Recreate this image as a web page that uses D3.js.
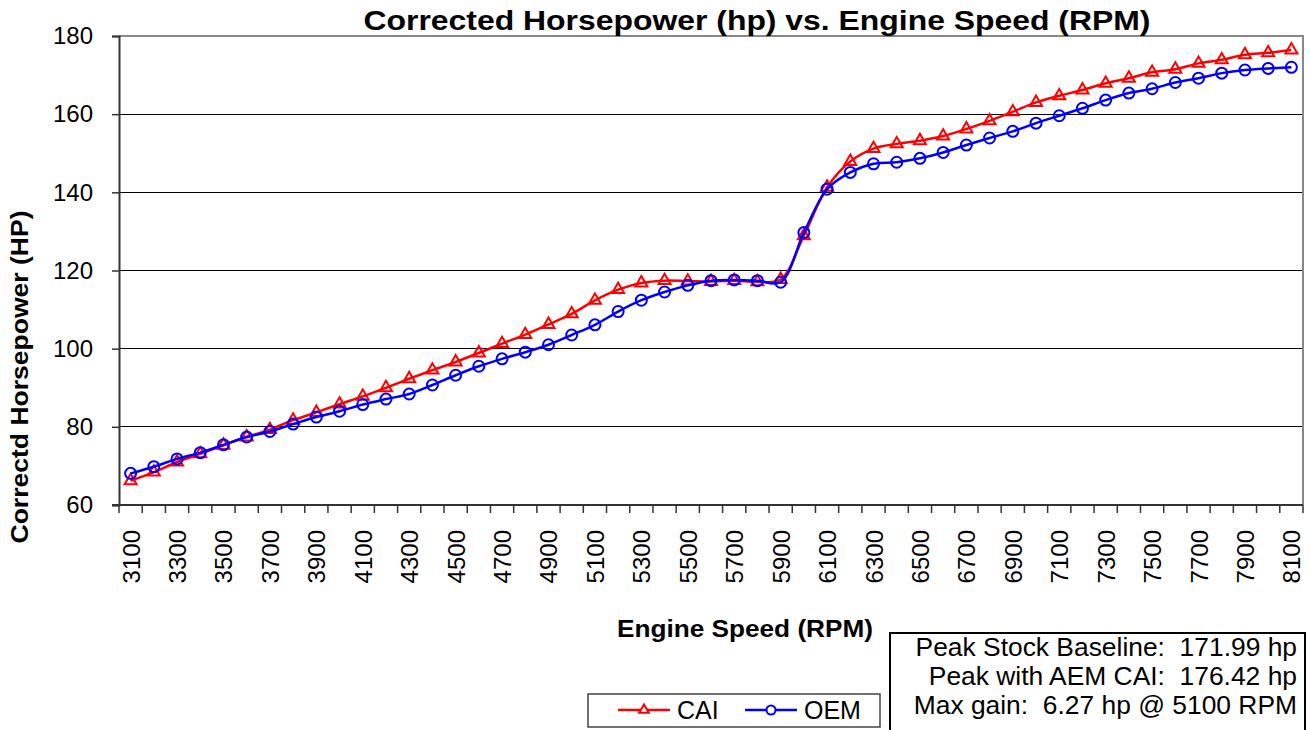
<!DOCTYPE html>
<html>
<head>
<meta charset="utf-8">
<script src="https://cdn.jsdelivr.net/npm/d3@7"></script>
<style>
  body { margin: 0; background: #fff; }
  svg { display: block; font-family: "Liberation Sans", Arial, sans-serif; }
</style>
</head>
<body>
<div id="chart"></div>
<script>
// engine speed categories (RPM)
const rpm = [3100, 3200, 3300, 3400, 3500, 3600, 3700, 3800, 3900, 4000,
  4100, 4200, 4300, 4400, 4500, 4600, 4700, 4800, 4900, 5000,
  5100, 5200, 5300, 5400, 5500, 5600, 5700, 5800, 5900, 6000,
  6100, 6200, 6300, 6400, 6500, 6600, 6700, 6800, 6900, 7000,
  7100, 7200, 7300, 7400, 7500, 7600, 7700, 7800, 7900, 8000, 8100]

// corrected horsepower, AEM cold air intake
const cai = [66.2, 68.4, 71.0, 73.1, 75.3, 77.4, 79.3, 81.7, 83.7, 85.8,
  87.8, 90.0, 92.3, 94.5, 96.6, 98.9, 101.3, 103.6, 106.2, 108.9,
  112.37, 115.1, 116.8, 117.4, 117.3, 117.2, 117.4, 117.1, 117.7, 128.9,
  141.3, 147.9, 151.2, 152.4, 153.2, 154.4, 156.2, 158.3, 160.6, 163.0,
  164.7, 166.2, 167.9, 169.2, 170.7, 171.5, 173.0, 173.9, 175.2, 175.7, 176.42]

// corrected horsepower, stock intake
const oem = [68.1, 69.8, 71.8, 73.4, 75.4, 77.4, 78.8, 80.7, 82.5, 84.0,
  85.7, 87.1, 88.4, 90.7, 93.2, 95.5, 97.4, 99.1, 101.0, 103.5,
  106.1, 109.5, 112.4, 114.5, 116.2, 117.4, 117.6, 117.4, 117.0, 129.7,
  140.8, 145.1, 147.3, 147.7, 148.7, 150.2, 152.1, 153.9, 155.6, 157.7,
  159.6, 161.5, 163.6, 165.4, 166.5, 168.1, 169.2, 170.5, 171.3, 171.7, 171.99]

const yTicks = [60, 80, 100, 120, 140, 160, 180]
const xLabels = rpm.filter((d, i) => i % 2 == 0)

const infoLines = ["Peak Stock Baseline:  171.99 hp",
  "Peak with AEM CAI:  176.42 hp",
  "Max gain:  6.27 hp @ 5100 RPM"]

// dimensions
const W = 1310, H = 730
const margin = { top: 36, right: 7, bottom: 225, left: 119 }
const width = W - margin.left - margin.right
const height = H - margin.top - margin.bottom

const svg = d3.select("#chart").append("svg")
    .attr("width", W)
    .attr("height", H)

const g = svg.append("g")
    .attr("transform", `translate(${margin.left},${margin.top})`)

// scales
const x = d3.scaleBand().domain(rpm).range([0, width])
const y = d3.scaleLinear().domain([60, 180]).range([height, 0])
const cx = d => x(d) + x.bandwidth() / 2

// gridlines
g.append("g")
  .selectAll("line")
  .data(yTicks.slice(1, -1))
  .join("line")
    .attr("x1", 0).attr("x2", width)
    .attr("y1", d => y(d)).attr("y2", d => y(d))
    .attr("stroke", "#000")
    .attr("stroke-width", 1)
    .attr("shape-rendering", "crispEdges")

// plot frame (top and right in gray)
g.append("path")
    .attr("d", `M0,0H${width}V${height}`)
    .attr("fill", "none")
    .attr("stroke", "#888")
    .attr("stroke-width", 2)

// y axis
const yAxis = g.append("g")
    .call(d3.axisLeft(y).tickValues(yTicks).tickSize(7).tickPadding(19))
yAxis.select(".domain").attr("stroke", "#333").attr("stroke-width", 2)
yAxis.selectAll(".tick line").attr("stroke", "#333").attr("stroke-width", 1.5)
yAxis.selectAll("text")
    .attr("font-size", 24)
    .attr("font-family", "Liberation Sans, Arial, sans-serif")
    .attr("fill", "#000")

// x axis: ticks on band edges, labels every other category
const xAxis = g.append("g")
    .attr("transform", `translate(0,${height})`)
xAxis.append("line")
    .attr("x1", -7).attr("x2", width)
    .attr("stroke", "#333").attr("stroke-width", 2)
xAxis.selectAll(".edge")
  .data(rpm.concat(["end"]))
  .join("line")
    .attr("class", "edge")
    .attr("x1", (d, i) => i < rpm.length ? x(d) : width)
    .attr("x2", (d, i) => i < rpm.length ? x(d) : width)
    .attr("y1", 0).attr("y2", 8)
    .attr("stroke", "#333").attr("stroke-width", 1.5)
xAxis.selectAll(".lbl")
  .data(xLabels)
  .join("text")
    .attr("class", "lbl")
    .attr("transform", d => `translate(${cx(d) + 9},${25}) rotate(-90)`)
    .attr("text-anchor", "end")
    .attr("font-size", 24)
    .text(d => d)

// series
const line = d3.line()
    .curve(d3.curveCatmullRom)
    .x(d => cx(d.rpm))
    .y(d => y(d.hp))

const caiData = rpm.map((r, i) => ({ rpm: r, hp: cai[i] }))
const oemData = rpm.map((r, i) => ({ rpm: r, hp: oem[i] }))

const tri = d3.symbol(d3.symbolTriangle, 62)

g.append("path")
    .datum(caiData)
    .attr("fill", "none")
    .attr("stroke", "#ff0000")
    .attr("stroke-width", 2.5)
    .attr("d", line)
g.append("g").selectAll("path")
  .data(caiData)
  .join("path")
    .attr("transform", d => `translate(${cx(d.rpm)},${y(d.hp)})`)
    .attr("d", tri)
    .attr("fill", "none")
    .attr("stroke", "#ff0000")
    .attr("stroke-width", 2)

g.append("path")
    .datum(oemData)
    .attr("fill", "none")
    .attr("stroke", "#0000ff")
    .attr("stroke-width", 2.5)
    .attr("d", line)
g.append("g").selectAll("circle")
  .data(oemData)
  .join("circle")
    .attr("cx", d => cx(d.rpm))
    .attr("cy", d => y(d.hp))
    .attr("r", 5.5)
    .attr("fill", "none")
    .attr("stroke", "#0000ff")
    .attr("stroke-width", 2)

// titles
svg.append("text")
    .attr("x", 757).attr("y", 30)
    .attr("text-anchor", "middle")
    .attr("font-size", 28)
    .attr("font-weight", "bold")
    .attr("textLength", 787)
    .attr("lengthAdjust", "spacingAndGlyphs")
    .text("Corrected Horsepower (hp) vs. Engine Speed (RPM)")

svg.append("text")
    .attr("x", 745).attr("y", 637)
    .attr("text-anchor", "middle")
    .attr("font-size", 24)
    .attr("font-weight", "bold")
    .attr("textLength", 256)
    .attr("lengthAdjust", "spacingAndGlyphs")
    .text("Engine Speed (RPM)")

svg.append("text")
    .attr("transform", "translate(28,377) rotate(-90)")
    .attr("text-anchor", "middle")
    .attr("font-size", 24)
    .attr("font-weight", "bold")
    .attr("textLength", 333)
    .attr("lengthAdjust", "spacingAndGlyphs")
    .text("Correctd Horsepower (HP)")

// legend
const legend = svg.append("g").attr("transform", "translate(588,694)")
legend.append("rect")
    .attr("width", 292).attr("height", 33)
    .attr("fill", "#fff").attr("stroke", "#444").attr("stroke-width", 1.5)
const legendItems = [
  { name: "CAI", color: "#ff0000", x0: 30 },
  { name: "OEM", color: "#0000ff", x0: 157 }
]
legendItems.forEach(function(item) {
    legend.append("line")
        .attr("x1", item.x0).attr("x2", item.x0 + 52)
        .attr("y1", 16).attr("y2", 16)
        .attr("stroke", item.color).attr("stroke-width", 2.5)
    if (item.name == "CAI") {
        legend.append("path")
            .attr("transform", `translate(${item.x0 + 26},16)`)
            .attr("d", d3.symbol(d3.symbolTriangle, 40))
            .attr("fill", "#fff").attr("stroke", item.color).attr("stroke-width", 2)
    } else {
        legend.append("circle")
            .attr("cx", item.x0 + 26).attr("cy", 16).attr("r", 4.5)
            .attr("fill", "#fff").attr("stroke", item.color).attr("stroke-width", 2)
    }
    legend.append("text")
        .attr("x", item.x0 + 59).attr("y", 25)
        .attr("font-size", 25)
        .text(item.name)
})

// info box
const info = svg.append("g").attr("transform", "translate(890,633)")
info.append("rect")
    .attr("width", 415).attr("height", 105)
    .attr("fill", "#fff").attr("stroke", "#000").attr("stroke-width", 2)
info.selectAll("text")
  .data(infoLines)
  .join("text")
    .attr("x", 407)
    .attr("y", (d, i) => 23 + i * 29)
    .attr("text-anchor", "end")
    .attr("font-size", 26.4)
    .attr("xml:space", "preserve")
    .style("white-space", "pre")
    .text(d => d)
</script>
</body>
</html>
